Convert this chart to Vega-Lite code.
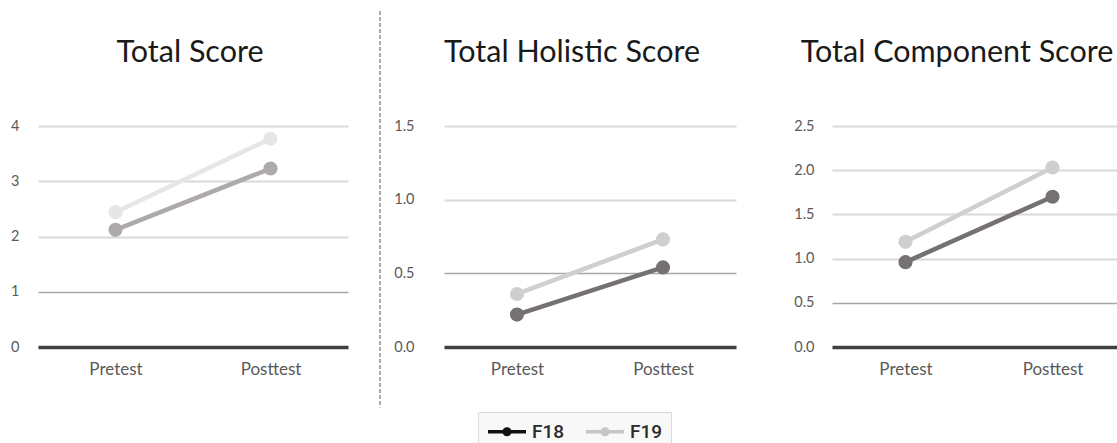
{
  "$schema": "https://vega.github.io/schema/vega-lite/v6.json",
  "background": "white",
  "padding": {"left": 10, "top": 10, "right": 0, "bottom": 0},
  "config": {
    "view": {"stroke": null},
    "font": "Lato",
    "axis": {"labelFont": "Lato", "labelColor": "#595959", "ticks": false, "title": null},
    "title": {"font": "Lato", "fontSize": 30.5, "fontWeight": "normal", "color": "#1a1a1a", "baseline": "alphabetic", "offset": 50}
  },
  "data": {
    "values": [
      {"panel": "total", "test": "Pretest", "group": "F18", "value": 2.12},
      {"panel": "total", "test": "Posttest", "group": "F18", "value": 3.23},
      {"panel": "total", "test": "Pretest", "group": "F19", "value": 2.44},
      {"panel": "total", "test": "Posttest", "group": "F19", "value": 3.77},
      {"panel": "holistic", "test": "Pretest", "group": "F18", "value": 0.22},
      {"panel": "holistic", "test": "Posttest", "group": "F18", "value": 0.54},
      {"panel": "holistic", "test": "Pretest", "group": "F19", "value": 0.36},
      {"panel": "holistic", "test": "Posttest", "group": "F19", "value": 0.73},
      {"panel": "component", "test": "Pretest", "group": "F18", "value": 0.96},
      {"panel": "component", "test": "Posttest", "group": "F18", "value": 1.70},
      {"panel": "component", "test": "Pretest", "group": "F19", "value": 1.19},
      {"panel": "component", "test": "Posttest", "group": "F19", "value": 2.03}
    ]
  },
  "bounds": "flush",
  "spacing": 96,
  "resolve": {"scale": {"x": "independent", "y": "independent", "stroke": "independent", "fill": "independent"}},
  "hconcat": [
    {
      "width": 310,
      "height": 221,
      "title": {"text": "Total Score", "dx": -3},
      "transform": [{"filter": "datum.panel === 'total'"}],
      "encoding": {
        "x": {"field": "test", "type": "nominal", "sort": ["Pretest", "Posttest"], "scale": {"type": "point", "padding": 0.5},
          "axis": {"labelAngle": 0, "labelFontSize": 17, "labelPadding": 14, "grid": false, "domain": true, "domainColor": "#404040", "domainWidth": 3.5}},
        "y": {"field": "value", "type": "quantitative", "scale": {"domain": [0, 4], "nice": false},
          "axis": {"values": [0, 1, 2, 3, 4], "format": "d", "labelFontSize": 14.5, "labelPadding": 19, "domain": false, "grid": true,
            "gridColor": {"condition": {"test": "datum.value === 1", "value": "#a6a6a6"}, "value": "#d9d9d9"},
            "gridWidth": {"condition": {"test": "datum.value === 1", "value": 1.3}, "value": 2}}}
      },
      "layer": [
        {"mark": {"type": "line", "strokeWidth": 4.5},
          "encoding": {"stroke": {"field": "group", "type": "nominal", "scale": {"domain": ["F18", "F19"], "range": ["#AEAAAA", "#E7E6E6"]}, "legend": null}}},
        {"mark": {"type": "point", "filled": true, "size": 200, "opacity": 1},
          "encoding": {"fill": {"field": "group", "type": "nominal", "scale": {"domain": ["F18", "F19"], "range": ["#AEAAAA", "#E7E6E6"]}, "legend": null}}},
        {"mark": {"type": "point", "filled": false, "opacity": 1},
          "transform": [{"filter": "false"}],
          "encoding": {
            "x": null, "y": null,
            "color": {"field": "group", "type": "nominal", "scale": {"domain": ["F18", "F19"], "range": ["#111111", "#c6c6c6"]},
              "legend": {"orient": "none", "legendX": 440, "legendY": 286, "direction": "horizontal", "title": null,
                "symbolType": "M-1,0L3,0M0.7,0A0.3,0.3,0,1,1,1.3,0A0.3,0.3,0,1,1,0.7,0M0.9,0A0.1,0.1,0,1,1,1.1,0A0.1,0.1,0,1,1,0.9,0",
                "symbolSize": 361, "symbolStrokeWidth": 3.5, "labelFont": "Roboto", "labelFontSize": 19, "labelFontWeight": 500,
                "labelColor": "#2a2a2a", "labelOffset": 23, "columnPadding": 14, "padding": 8,
                "fillColor": "#f8f8f8", "strokeColor": "#dadada"}}
          }}
      ]
    },
    {
      "width": 292,
      "height": 221,
      "title": {"text": "Total Holistic Score", "dx": -18, "dy": 108},
      "transform": [{"filter": "datum.panel === 'holistic'"}],
      "encoding": {
        "x": {"field": "test", "type": "nominal", "sort": ["Pretest", "Posttest"], "scale": {"type": "point", "padding": 0.5},
          "axis": {"labelAngle": 0, "labelFontSize": 17, "labelPadding": 14, "grid": false, "domain": true, "domainColor": "#404040", "domainWidth": 3.5}},
        "y": {"field": "value", "type": "quantitative", "scale": {"domain": [0, 1.5], "nice": false},
          "axis": {"values": [0, 0.5, 1, 1.5], "format": ".1f", "labelFontSize": 14.5, "labelPadding": 30, "domain": false, "grid": true,
            "gridColor": {"condition": {"test": "datum.value === 0.5", "value": "#a6a6a6"}, "value": "#d9d9d9"},
            "gridWidth": {"condition": {"test": "datum.value === 0.5", "value": 1.3}, "value": 2}}}
      },
      "layer": [
        {"data": {"values": [{"top": 2.28, "bottom": -0.41}]},
          "mark": {"type": "rule", "strokeDash": [4, 2], "color": "#808080", "strokeWidth": 1.3, "clip": false},
          "encoding": {"x": {"value": -64}, "y": {"field": "top", "type": "quantitative"}, "y2": {"field": "bottom"}}},
        {"mark": {"type": "line", "strokeWidth": 4.5},
          "encoding": {"stroke": {"field": "group", "type": "nominal", "scale": {"domain": ["F18", "F19"], "range": ["#757171", "#D0CECE"]}, "legend": null}}},
        {"mark": {"type": "point", "filled": true, "size": 200, "opacity": 1},
          "encoding": {"fill": {"field": "group", "type": "nominal", "scale": {"domain": ["F18", "F19"], "range": ["#757171", "#D0CECE"]}, "legend": null}}}
      ]
    },
    {
      "width": 294,
      "height": 221,
      "title": {"text": "Total Component Score", "dx": -22},
      "transform": [{"filter": "datum.panel === 'component'"}],
      "encoding": {
        "x": {"field": "test", "type": "nominal", "sort": ["Pretest", "Posttest"], "scale": {"type": "point", "padding": 0.5},
          "axis": {"labelAngle": 0, "labelFontSize": 17, "labelPadding": 14, "grid": false, "domain": true, "domainColor": "#404040", "domainWidth": 3.5}},
        "y": {"field": "value", "type": "quantitative", "scale": {"domain": [0, 2.5], "nice": false},
          "axis": {"values": [0, 0.5, 1, 1.5, 2, 2.5], "format": ".1f", "labelFontSize": 14.5, "labelPadding": 18, "domain": false, "grid": true,
            "gridColor": {"condition": {"test": "datum.value === 0.5", "value": "#a6a6a6"}, "value": "#d9d9d9"},
            "gridWidth": {"condition": {"test": "datum.value === 0.5", "value": 1.3}, "value": 2}}}
      },
      "layer": [
        {"mark": {"type": "line", "strokeWidth": 4.5},
          "encoding": {"stroke": {"field": "group", "type": "nominal", "scale": {"domain": ["F18", "F19"], "range": ["#757171", "#D0CECE"]}, "legend": null}}},
        {"mark": {"type": "point", "filled": true, "size": 200, "opacity": 1},
          "encoding": {"fill": {"field": "group", "type": "nominal", "scale": {"domain": ["F18", "F19"], "range": ["#757171", "#D0CECE"]}, "legend": null}}}
      ]
    }
  ]
}
